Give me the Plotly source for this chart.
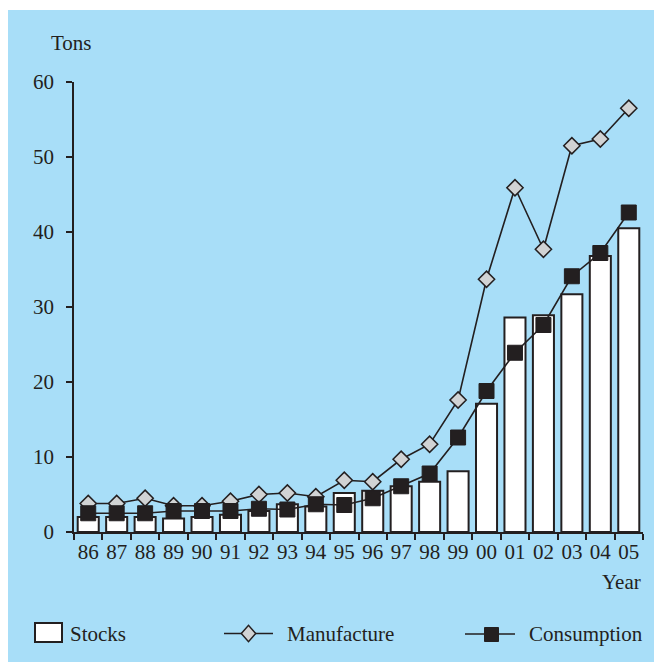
import plotly.graph_objects as go

years = ["86", "87", "88", "89", "90", "91", "92", "93", "94", "95",
         "96", "97", "98", "99", "00", "01", "02", "03", "04", "05"]
stocks = [2.0, 2.0, 2.0, 1.8, 2.0, 2.3, 2.8, 3.7, 3.4, 5.2,
          5.5, 6.1, 6.7, 8.1, 17.1, 28.6, 28.9, 31.7, 36.8, 40.5]
manufacture = [3.8, 3.8, 4.5, 3.5, 3.5, 4.1, 5.0, 5.2, 4.7, 6.9,
               6.7, 9.7, 11.7, 17.6, 33.7, 45.9, 37.7, 51.5, 52.4, 56.5]
consumption = [2.5, 2.5, 2.5, 2.8, 2.8, 2.8, 3.1, 3.0, 3.7, 3.6,
               4.5, 6.1, 7.8, 12.6, 18.8, 23.9, 27.6, 34.1, 37.2, 42.6]
y_ticks = [0, 10, 20, 30, 40, 50, 60]

DARK = "#231f20"
BLUE = "#a8def8"
GREY = "#d1d3d4"
FONT = "Liberation Serif"

W, H = 654, 662
L, R, T, B = 74, 643, 82, 532


def px(x):
    return (x - L) / (R - L)


def py(y):
    return (B - y) / (B - T)


fig = go.Figure()
fig.add_trace(go.Bar(
    x=years, y=stocks, name="Stocks",
    marker=dict(color="white", line=dict(color=DARK, width=2)),
))
fig.add_trace(go.Scatter(
    x=years, y=manufacture, name="Manufacture", mode="lines+markers",
    line=dict(color=DARK, width=1.6),
    marker=dict(symbol="diamond", size=12.5, color=GREY, line=dict(color=DARK, width=1.5)),
))
fig.add_trace(go.Scatter(
    x=years, y=consumption, name="Consumption", mode="lines+markers",
    line=dict(color=DARK, width=1.6),
    marker=dict(symbol="square", size=15, color=DARK, line=dict(color=DARK, width=1)),
))

shapes = []
# white border top/left
shapes.append(dict(type="rect", xref="paper", yref="paper", x0=px(0), x1=px(W), y0=py(10), y1=py(0),
                   fillcolor="white", line=dict(width=0), layer="above"))
shapes.append(dict(type="rect", xref="paper", yref="paper", x0=px(0), x1=px(8), y0=py(H), y1=py(0),
                   fillcolor="white", line=dict(width=0), layer="above"))
# legend keys
shapes.append(dict(type="rect", xref="paper", yref="paper", x0=px(35), x1=px(62), y0=py(642), y1=py(623),
                   fillcolor="white", line=dict(color=DARK, width=2), layer="above"))
shapes.append(dict(type="line", xref="paper", yref="paper", x0=px(224), x1=px(273), y0=py(633.5), y1=py(633.5),
                   line=dict(color=DARK, width=1.6), layer="above"))
cx, cy, hw, hh = 248.5, 633.5, 7.2, 8.2
path = "M {},{} L {},{} L {},{} L {},{} Z".format(
    px(cx - hw), py(cy), px(cx), py(cy - hh), px(cx + hw), py(cy), px(cx), py(cy + hh))
shapes.append(dict(type="path", xref="paper", yref="paper", path=path,
                   fillcolor=GREY, line=dict(color=DARK, width=1.5), layer="above"))
shapes.append(dict(type="line", xref="paper", yref="paper", x0=px(465), x1=px(515), y0=py(634), y1=py(634),
                   line=dict(color=DARK, width=1.6), layer="above"))
shapes.append(dict(type="rect", xref="paper", yref="paper", x0=px(484.5), x1=px(498.5), y0=py(641.5), y1=py(627.5),
                   fillcolor=DARK, line=dict(color=DARK, width=1), layer="above"))

annots = []
def text(t, x, y, xanchor):
    annots.append(dict(text=t, xref="paper", yref="paper", x=px(x), y=py(y),
                       xanchor=xanchor, yanchor="middle", showarrow=False,
                       font=dict(family=FONT, size=21, color=DARK)))

text("Tons", 71, 43, "center")
text("Year", 621, 582, "center")
text("Stocks", 68, 634, "left")
text("Manufacture", 285, 634, "left")
text("Consumption", 527, 634, "left")

fig.update_layout(
    width=W, height=H, autosize=False,
    margin=dict(l=L, r=W - R, t=T, b=H - B, pad=0, autoexpand=False),
    paper_bgcolor=BLUE, plot_bgcolor=BLUE,
    showlegend=False,
    bargap=0.26,
    font=dict(family=FONT, size=21, color=DARK),
    shapes=shapes, annotations=annots,
    xaxis=dict(type="category", range=[-0.5, len(years) - 0.5], automargin=False,
               showline=True, linecolor=DARK, linewidth=1.6,
               ticks="outside", tickson="boundaries", ticklen=6, tickwidth=1.6, tickcolor=DARK,
               tickangle=0, showgrid=False, zeroline=False,
               tickfont=dict(family=FONT, size=21, color=DARK)),
    yaxis=dict(range=[0, 60], tickvals=y_ticks, automargin=False,
               showline=True, linecolor=DARK, linewidth=1.6,
               ticks="outside", ticklen=6, tickwidth=1.6, tickcolor=DARK,
               showgrid=False, zeroline=False, ticklabelstandoff=8,
               tickfont=dict(family=FONT, size=21, color=DARK)),
)

fig.write_html("out.html", config={"displayModeBar": False},
               post_script="document.body.style.margin='0';document.body.style.overflow='hidden';")
